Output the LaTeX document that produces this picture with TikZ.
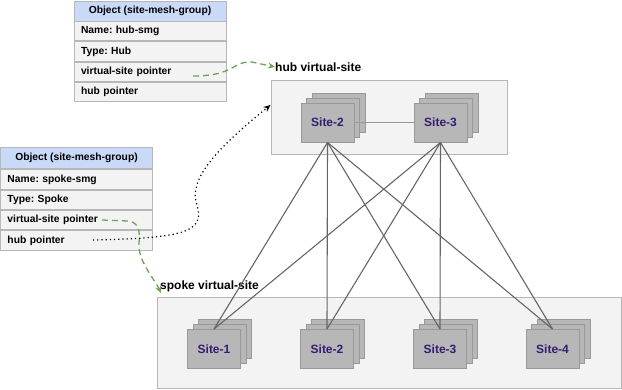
\documentclass[tikz,border=0pt]{standalone}
\usepackage{fontspec}
\setmainfont{Liberation Sans}
\frenchspacing
\usetikzlibrary{shadows,arrows.meta}
\definecolor{hdrblue}{HTML}{C9DAF8}
\definecolor{rowgray}{HTML}{F3F3F3}
\definecolor{bordergray}{HTML}{B7B7B7}
\definecolor{sitefill}{HTML}{B7B7B7}
\definecolor{siteborder}{HTML}{999999}
\definecolor{sitetext}{HTML}{351C75}
\definecolor{linkgray}{HTML}{666666}
\definecolor{hublink}{HTML}{999999}
\definecolor{ptrgreen}{HTML}{6AA84F}
\begin{document}
\begin{tikzpicture}[x=1pt,y=-1pt,
  tblhdr/.style={draw=bordergray,fill=hdrblue,line width=0.9pt,minimum width=152pt,minimum height=20pt,inner sep=0pt,font=\fontsize{10.3}{12}\selectfont\bfseries},
  tblrow/.style={draw=bordergray,fill=rowgray,line width=0.9pt,minimum width=152pt,minimum height=19.5pt,inner xsep=7pt,inner ysep=0pt,text width=138pt,align=left,font=\fontsize{10.3}{12}\selectfont\bfseries},
  vsbox/.style={draw=bordergray,fill=rowgray,line width=1pt},
  site/.style={draw=siteborder,fill=sitefill,line width=0.9pt,minimum width=53pt,minimum height=39pt,inner sep=0pt,text=sitetext,font=\fontsize{12}{14}\selectfont\bfseries,
     double copy shadow={shadow xshift=5.5pt,shadow yshift=5pt}},
  vslabel/.style={anchor=west,inner sep=0pt,font=\fontsize{12}{14}\selectfont\bfseries},
  link/.style={draw=linkgray,line width=1.1pt},
  greenptr/.style={draw=ptrgreen,line width=1.3pt,dash pattern=on 6pt off 4pt,-{Stealth[length=7pt,width=6pt]}},
  dotptr/.style={draw=black,line width=1.2pt,dash pattern=on 1.2pt off 3pt,-{Stealth[length=7pt,width=6pt]}}
]
\useasboundingbox (0,0) rectangle (622,390);
\fill[white] (0,0) rectangle (622,390);

% virtual-site boxes
\node[vsbox,minimum width=236pt,minimum height=74pt,inner sep=0pt] (hubvs) at (389,118) {};
\node[vsbox,minimum width=464pt,minimum height=91pt,inner sep=0pt] (spokevs) at (389,343.5) {};
\node[vslabel] (hublbl) at (275,67) {hub virtual-site};
\node[vslabel] (spokelbl) at (160,286) {spoke virtual-site};

% hub table
\node[tblhdr] (ht0) at (150,11) {Object (site-mesh-group)};
\node[tblrow] (ht1) at (150,31.2) {Name: hub-smg};
\node[tblrow] (ht2) at (150,51.5) {Type: Hub};
\node[tblrow] (ht3) at (150,71.8) {virtual-site pointer};
\node[tblrow] (ht4) at (150,92.1) {hub pointer};

% spoke table
\node[tblhdr,minimum height=21pt] (st0) at (76.5,158) {Object (site-mesh-group)};
\node[tblrow] (st1) at (76.5,179.5) {Name: spoke-smg};
\node[tblrow] (st2) at (76.5,199.8) {Type: Spoke};
\node[tblrow] (st3) at (76.5,220.1) {virtual-site pointer};
\node[tblrow] (st4) at (76.5,240.4) {hub pointer};

% sites
\node[site] (h2) at (327.5,122.5) {Site-2};
\node[site] (h3) at (440.5,122.5) {Site-3};
\node[site] (s1) at (214,349) {Site-1};
\node[site] (s2) at (327,349) {Site-2};
\node[site] (s3) at (440,349) {Site-3};
\node[site] (s4) at (552.5,349) {Site-4};

% links
\draw[link,draw=hublink] (h2.east) -- (h3.west);
\foreach \h in {h2,h3}{
  \foreach \s in {s1,s2,s3,s4}{
    \draw[link] (\h.south) -- (\s.north);
  }
}

% pointers
\coordinate (hvsp) at (193,76);
\coordinate (svsp) at (102,220);
\coordinate (shp) at (93,240);
\coordinate (hubin) at (270.5,105);
\draw[greenptr] (hvsp) .. controls (235,76) and (232,61) .. (252,62) -- (hublbl.west);
\draw[greenptr] (svsp) -- (128,221) .. controls (142,223) and (139,235) .. (139,246) .. controls (139,262) and (155,280) .. (161,293);
\draw[dotptr] (shp) .. controls (185,238) and (205,232) .. (197,205) .. controls (188,180) and (215,150) .. (hubin);
\end{tikzpicture}
\end{document}
